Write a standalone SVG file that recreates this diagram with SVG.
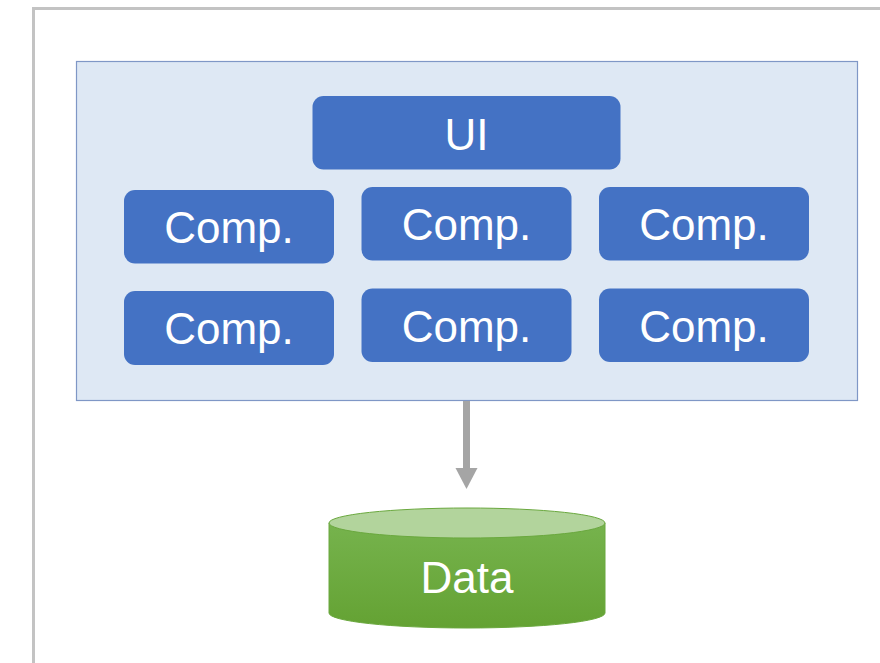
<svg xmlns="http://www.w3.org/2000/svg" width="880" height="663" viewBox="0 0 880 663">
<style>
.frame{fill:none;stroke:#c3c3c3;stroke-width:3}
.box{fill:#4472c4}
.lbl{font-family:"Liberation Sans",Arial,sans-serif;font-size:44px;fill:#ffffff;text-anchor:middle}
</style>
<defs>
<linearGradient id="cyl" x1="0" y1="0" x2="0" y2="1">
<stop offset="0" stop-color="#76b34d"/>
<stop offset="1" stop-color="#64a233"/>
</linearGradient>
</defs>
<rect width="880" height="663" fill="#ffffff"/>
<rect class="frame" x="33.5" y="8.5" width="900" height="700"/>
<g id="container">
<rect x="76.5" y="61.5" width="781" height="339" fill="#dee8f4" stroke="#7f97c6" stroke-width="1.2"/>
</g>
<g id="ui">
<rect class="box" x="312.5" y="96" width="308" height="73.5" rx="11"/>
<text class="lbl" x="466.5" y="150">UI</text>
</g>
<g id="comp1">
<rect class="box" x="124" y="190" width="210" height="73.5" rx="11"/>
<text class="lbl" x="229" y="243">Comp.</text>
</g>
<g id="comp2">
<rect class="box" x="361.5" y="187" width="210" height="73.5" rx="11"/>
<text class="lbl" x="466.5" y="240">Comp.</text>
</g>
<g id="comp3">
<rect class="box" x="599" y="187" width="210" height="73.5" rx="11"/>
<text class="lbl" x="704" y="240">Comp.</text>
</g>
<g id="comp4">
<rect class="box" x="124" y="291" width="210" height="74" rx="11"/>
<text class="lbl" x="229" y="344">Comp.</text>
</g>
<g id="comp5">
<rect class="box" x="361.5" y="288.5" width="210" height="73.5" rx="11"/>
<text class="lbl" x="466.5" y="342">Comp.</text>
</g>
<g id="comp6">
<rect class="box" x="599" y="288.5" width="210" height="73.5" rx="11"/>
<text class="lbl" x="704" y="342">Comp.</text>
</g>
<g id="connectors">
<line x1="466.5" y1="401" x2="466.5" y2="469" stroke="#a5a5a5" stroke-width="7"/>
<polygon points="455.5,468 477.5,468 466.5,489" fill="#a5a5a5"/>
</g>
<g id="data">
<path d="M329,523 L329,613 A138,15 0 0 0 605,613 L605,523 Z" fill="url(#cyl)" stroke="#6aa83e" stroke-width="1"/>
<ellipse cx="467" cy="523" rx="138" ry="15" fill="#b2d49c" stroke="#6aa83e" stroke-width="1"/>
<text class="lbl" x="467" y="593">Data</text>
</g>
</svg>
